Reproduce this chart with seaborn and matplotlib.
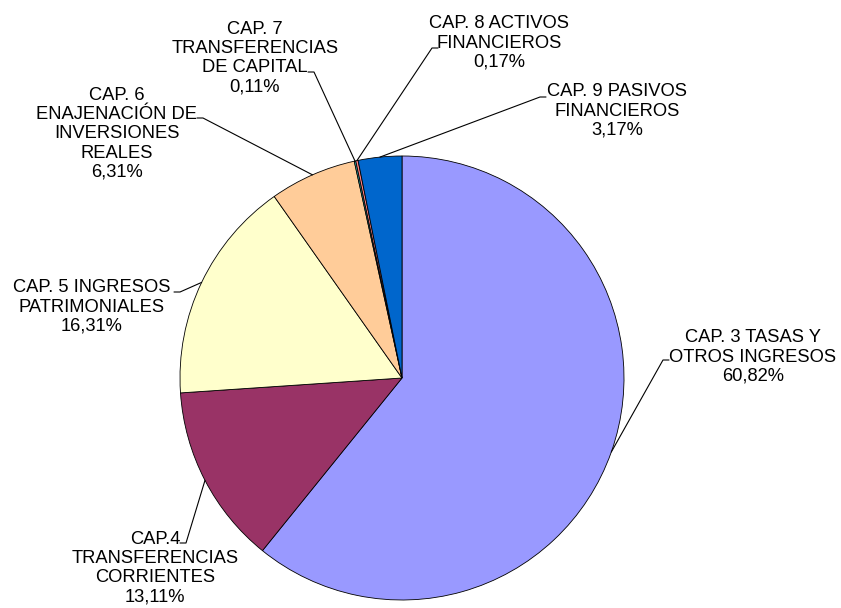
import numpy as np
import matplotlib
matplotlib.use('Agg')
import matplotlib.pyplot as plt
import seaborn as sns

# datos del gráfico (porcentaje de ingresos por capítulo)
capitulos = ['CAP. 3 TASAS Y\nOTROS INGRESOS',
             'CAP.4\nTRANSFERENCIAS\nCORRIENTES',
             'CAP. 5 INGRESOS\nPATRIMONIALES',
             'CAP. 6\nENAJENACIÓN DE\nINVERSIONES\nREALES',
             'CAP. 7\nTRANSFERENCIAS\nDE CAPITAL',
             'CAP. 8 ACTIVOS\nFINANCIEROS',
             'CAP. 9 PASIVOS\nFINANCIEROS']
porcentajes = [60.82, 13.11, 16.31, 6.31, 0.11, 0.17, 3.17]
colores = ['#9999FF', '#993366', '#FFFFCC', '#FFCC99', '#33CCCC', '#FF8080', '#0066CC']

# posicion de las etiquetas (pixeles): centro del texto, codo de la linea guia, lado del texto
pos_texto = [(753, 357), (155, 568), (92, 307), (117, 134), (255, 58), (499, 43), (617, 111)]
pos_codo = [(663, 360), (186, 543), (180, 292), (203, 118), (314, 72), (432, 48), (540, 97)]
lado = [1, -1, -1, -1, -1, 1, 1]

sns.set_theme(style='white')
plt.rcParams['font.family'] = ['Liberation Sans', 'DejaVu Sans']

W, H = 841, 608
fig = plt.figure(figsize=(W / 100, H / 100), dpi=100)
ax = fig.add_axes([0, 0, 1, 1])

centro = (402, H - 378)
radio = 222
wedges, _ = ax.pie(porcentajes, colors=sns.color_palette(colores), startangle=90,
                   counterclock=False, center=centro, radius=radio,
                   wedgeprops=dict(edgecolor='black', linewidth=0.6))

for w, nombre, p, (tx, ty), (cx, cy), s in zip(wedges, capitulos, porcentajes,
                                                pos_texto, pos_codo, lado):
    ang = np.deg2rad((w.theta1 + w.theta2) / 2)
    px = centro[0] + radio * np.cos(ang)
    py = centro[1] + radio * np.sin(ang)
    cy = H - cy
    ax.plot([px, cx, cx + 6 * s], [py, cy, cy], color='black', linewidth=0.8)
    etiqueta = nombre + '\n' + f'{p:.2f}'.replace('.', ',') + '%'
    ax.text(tx, H - ty, etiqueta, ha='center', va='center', multialignment='center',
            fontsize=13.2, color='black', linespacing=1.17)

ax.set_xlim(0, W)
ax.set_ylim(0, H)
ax.axis('off')

plt.savefig('out.png', dpi=100)
